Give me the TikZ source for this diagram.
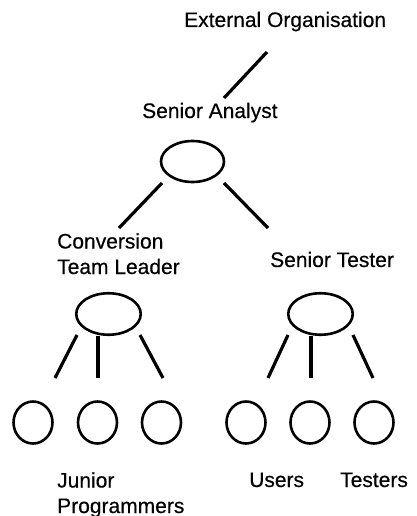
\documentclass[tikz,border=0pt]{standalone}
\usepackage{fontspec}
\setmainfont{Liberation Sans}
\newfontfamily\lblfont[FakeBold=0.4]{Liberation Sans}
\usetikzlibrary{shapes.geometric}
\begin{document}
\begin{tikzpicture}[x=1pt,y=-1pt,
  lbl/.style={inner sep=0pt,anchor=base west,align=left,font=\lblfont\fontsize{21}{25.5}\selectfont},
  bigov/.style={draw,ellipse,line width=2.6pt,inner sep=0pt,minimum width=63pt,minimum height=41pt},
  circ/.style={draw,ellipse,line width=2.6pt,inner sep=0pt,minimum width=39pt,minimum height=42pt},
  link/.style={line width=3.2pt}]
\useasboundingbox (0,0) rectangle (417,516);
% labels (multi-line labels are placed by their last baseline)
\node[lbl] (ext) at (184,27) {External Organisation};
\node[lbl] (sa) at (142,118) {Senior Analyst};
\node[lbl] (ctl) at (57,274) {Conversion\\Team Leader};
\node[lbl] (st) at (270,267) {Senior Tester};
\node[lbl] (jp) at (57,513) {Junior\\Programmers};
\node[lbl] (us) at (249,487) {Users};
\node[lbl] (te) at (340,487) {Testers};
% ovals
\node[bigov] (o1) at (192.5,161.5) {};
\node[bigov,minimum width=64.5pt,minimum height=41.5pt] (o2) at (108.5,314) {};
\node[bigov,minimum width=64.5pt,minimum height=41.5pt] (o3) at (320.5,314) {};
\node[circ] (c1) at (33,422.5) {};
\node[circ] (c2) at (97.5,422.5) {};
\node[circ] (c3) at (161.5,422.5) {};
\node[circ] (c4) at (246,422.5) {};
\node[circ] (c5) at (310,422.5) {};
\node[circ] (c6) at (374,422.5) {};
% connector end points
\coordinate (e1a) at (267,52);  \coordinate (e1b) at (224,98);
\coordinate (e2a) at (162,183); \coordinate (e2b) at (119,228);
\coordinate (e3a) at (224,183); \coordinate (e3b) at (268,228);
\coordinate (l1a) at (77,335);  \coordinate (l1b) at (55,378);
\coordinate (l2a) at (98,336);  \coordinate (l2b) at (98,378);
\coordinate (l3a) at (140,335); \coordinate (l3b) at (163,378);
\coordinate (r1a) at (288,335); \coordinate (r1b) at (268,378);
\coordinate (r2a) at (311,336); \coordinate (r2b) at (311,378);
\coordinate (r3a) at (353,335); \coordinate (r3b) at (373,378);
% connectors
\draw[link] (e1a) -- (e1b);
\draw[link] (e2a) -- (e2b);
\draw[link] (e3a) -- (e3b);
\draw[link] (l1a) -- (l1b);
\draw[link] (l2a) -- (l2b);
\draw[link] (l3a) -- (l3b);
\draw[link] (r1a) -- (r1b);
\draw[link] (r2a) -- (r2b);
\draw[link] (r3a) -- (r3b);
\end{tikzpicture}
\end{document}
